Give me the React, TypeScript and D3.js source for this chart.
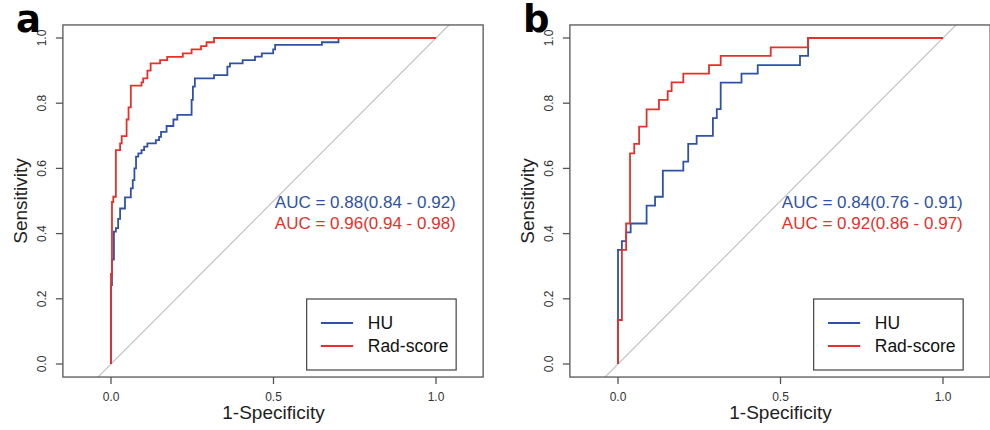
import React from "react";
import * as d3 from "d3";

// ---- Data ----
const panelLabels = ["a", "b"];
const seriesNames = ["HU", "Rad-score"];
const tickValues = [0, 0.5, 1];
const yTickValues = [0, 0.2, 0.4, 0.6, 0.8, 1.0];

// panel a
const huA_fpr = [0, 0, 0.003, 0.009, 0.015, 0.022, 0.028, 0.043, 0.061, 0.067, 0.072, 0.077, 0.084, 0.094, 0.102, 0.112, 0.138, 0.148, 0.154, 0.171, 0.192, 0.204, 0.248, 0.252, 0.258, 0.317, 0.358, 0.366, 0.405, 0.443, 0.464, 0.499, 0.505, 0.649, 0.70, 1];
const huA_tpr = [0, 0.242, 0.32, 0.406, 0.417, 0.445, 0.477, 0.511, 0.539, 0.564, 0.6, 0.636, 0.646, 0.656, 0.667, 0.677, 0.687, 0.697, 0.712, 0.73, 0.75, 0.764, 0.81, 0.851, 0.876, 0.886, 0.912, 0.922, 0.932, 0.943, 0.953, 0.965, 0.979, 0.987, 1.0, 1.0];
const radA_fpr = [0, 0, 0.003, 0.007, 0.015, 0.028, 0.033, 0.048, 0.054, 0.061, 0.094, 0.099, 0.112, 0.122, 0.151, 0.173, 0.221, 0.248, 0.277, 0.294, 0.317, 1];
const radA_tpr = [0, 0.276, 0.497, 0.513, 0.656, 0.677, 0.699, 0.75, 0.787, 0.854, 0.864, 0.876, 0.9, 0.922, 0.932, 0.942, 0.953, 0.965, 0.975, 0.987, 1.0, 1.0];

// panel b
const huB_fpr = [0, 0, 0.012, 0.025, 0.039, 0.088, 0.114, 0.138, 0.201, 0.216, 0.242, 0.292, 0.304, 0.316, 0.38, 0.43, 0.56, 0.585, 1];
const huB_tpr = [0, 0.35, 0.377, 0.404, 0.431, 0.486, 0.513, 0.593, 0.621, 0.675, 0.70, 0.754, 0.782, 0.863, 0.891, 0.917, 0.945, 1.0, 1.0];
const radB_fpr = [0, 0, 0.012, 0.025, 0.037, 0.05, 0.065, 0.088, 0.126, 0.153, 0.165, 0.201, 0.28, 0.316, 0.47, 0.585, 1];
const radB_tpr = [0, 0.135, 0.35, 0.431, 0.646, 0.675, 0.728, 0.781, 0.81, 0.837, 0.864, 0.891, 0.917, 0.945, 0.971, 1.0, 1.0];

const aucHU = ["AUC = 0.88(0.84 - 0.92)", "AUC = 0.84(0.76 - 0.91)"];
const aucRad = ["AUC = 0.96(0.94 - 0.98)", "AUC = 0.92(0.86 - 0.97)"];

const BLUE = "#2f52a8";
const RED = "#e8302a";
const FONT = "'Liberation Sans', Arial, sans-serif";

type Pt = [number, number];
const zip = (xs: number[], ys: number[]): Pt[] => xs.map((x, i) => [x, ys[i]]);

const panels = [
  { hu: zip(huA_fpr, huA_tpr), rad: zip(radA_fpr, radA_tpr) },
  { hu: zip(huB_fpr, huB_tpr), rad: zip(radB_fpr, radB_tpr) },
];

function Panel({ idx }: { idx: number }) {
  const off = idx * 507;
  const x = d3.scaleLinear().domain([0, 1]).range([111 + off, 436 + off]);
  const y = d3.scaleLinear().domain([0, 1]).range([364, 38]);
  const xMin = -0.148, xMax = 1.145, yMin = -0.04, yMax = 1.04;
  const bx0 = x(xMin), bx1 = x(xMax), by0 = y(yMax), by1 = y(yMin);
  const line = d3
    .line<Pt>()
    .x((d) => x(d[0]))
    .y((d) => y(d[1]))
    .curve(d3.curveStepAfter);
  const p = panels[idx];
  const clipId = `clip${idx}`;
  const legX = x(0.602), legY = 299;
  return (
    <g>
      <defs>
        <clipPath id={clipId}>
          <rect x={bx0} y={by0} width={bx1 - bx0} height={by1 - by0} />
        </clipPath>
      </defs>
      <line
        x1={x(-1)} y1={y(-1)} x2={x(2)} y2={y(2)}
        stroke="#bdbdbd" strokeWidth={1.1} clipPath={`url(#${clipId})`}
      />
      <path d={line(p.hu) || ""} fill="none" stroke={BLUE} strokeWidth={1.8} />
      <path d={line(p.rad) || ""} fill="none" stroke={RED} strokeWidth={1.8} />
      <rect x={bx0} y={by0} width={bx1 - bx0} height={by1 - by0} fill="none" stroke="#555" strokeWidth={1.3} />
      {tickValues.map((t) => (
        <g key={"xt" + t}>
          <line x1={x(t)} x2={x(t)} y1={by1} y2={by1 + 7} stroke="#555" strokeWidth={1.3} />
          <text x={x(t)} y={by1 + 24} textAnchor="middle" fontSize={12} fill="#333" fontFamily={FONT}>
            {t.toFixed(1)}
          </text>
        </g>
      ))}
      {yTickValues.map((t) => (
        <g key={"yt" + t}>
          <line x1={bx0 - 7} x2={bx0} y1={y(t)} y2={y(t)} stroke="#555" strokeWidth={1.3} />
          <text
            transform={`translate(${bx0 - 17},${y(t)}) rotate(-90)`}
            textAnchor="middle" fontSize={12} fill="#333" fontFamily={FONT}
          >
            {t.toFixed(1)}
          </text>
        </g>
      ))}
      <text x={x(0.5)} y={419} textAnchor="middle" fontSize={19} fill="#222" fontFamily={FONT}>
        1-Specificity
      </text>
      <text
        transform={`translate(${bx0 - 36},${y(0.5)}) rotate(-90)`}
        textAnchor="middle" fontSize={19} fill="#222" fontFamily={FONT}
      >
        Sensitivity
      </text>
      <text x={x(0.504)} y={208} fontSize={17} fill={BLUE} fontFamily={FONT}>{aucHU[idx]}</text>
      <text x={x(0.504)} y={229} fontSize={17} fill={RED} fontFamily={FONT}>{aucRad[idx]}</text>
      <rect x={legX} y={legY} width={x(1.062) - legX} height={71} fill="white" stroke="#444" strokeWidth={1.2} />
      <line x1={x(0.646)} x2={x(0.745)} y1={323} y2={323} stroke={BLUE} strokeWidth={1.8} />
      <line x1={x(0.646)} x2={x(0.745)} y1={346} y2={346} stroke={RED} strokeWidth={1.8} />
      <text x={x(0.79)} y={329} fontSize={17.5} fill="#111" fontFamily={FONT}>{seriesNames[0]}</text>
      <text x={x(0.79)} y={352} fontSize={17.5} fill="#111" fontFamily={FONT}>{seriesNames[1]}</text>
      <text x={idx === 0 ? 16 : 523} y={32} fontSize={37} fontWeight="bold" fill="#000" fontFamily="'DejaVu Sans', sans-serif">
        {panelLabels[idx]}
      </text>
    </g>
  );
}

export default function App() {
  return (
    <div style={{ position: "fixed", left: 0, top: 0, width: 990, height: 430, background: "white" }}>
      <svg width={990} height={430} style={{ display: "block" }}>
        <rect width={990} height={430} fill="white" />
        <Panel idx={0} />
        <Panel idx={1} />
      </svg>
    </div>
  );
}
